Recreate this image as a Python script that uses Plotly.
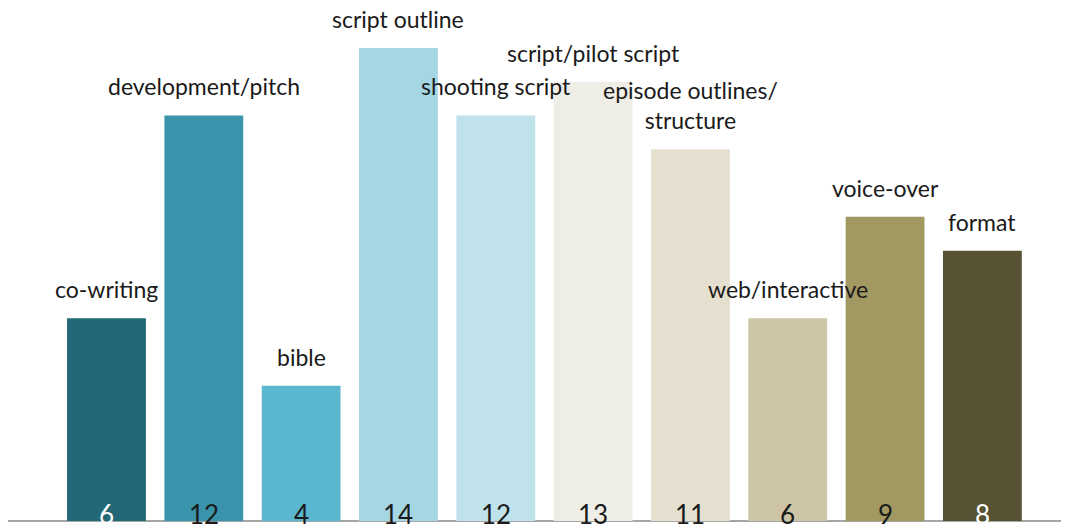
import plotly.graph_objects as go

categories = ["co-writing", "development/pitch", "bible", "script outline", "shooting script",
              "script/pilot script", "episode outlines/<br>structure", "web/interactive",
              "voice-over", "format"]
values = [6, 12, 4, 14, 12, 13, 11, 6, 9, 8]
colors = ["#236877", "#3A95AC", "#5BB7CF", "#A4D7E3", "#C0E2EB",
          "#EEEEE7", "#E4DFCE", "#CDC5A5", "#A19862", "#575234"]
value_colors = ["#FFFFFF", "#1A1A1A", "#1A1A1A", "#1A1A1A", "#1A1A1A",
                "#1A1A1A", "#1A1A1A", "#1A1A1A", "#1A1A1A", "#FFFFFF"]

FONT = "Lato, sans-serif"
x = list(range(len(values)))

fig = go.Figure()
fig.add_trace(go.Bar(x=x, y=values, marker=dict(color=colors, line=dict(width=0)),
                     width=0.81, hoverinfo="skip"))

for i, (c, v) in enumerate(zip(categories, values)):
    fig.add_annotation(x=i, y=v, text=c, showarrow=False, yanchor="bottom", yshift=13,
                       font=dict(family=FONT, size=23, color="#1A1A1A"))
    fig.add_annotation(x=i, y=0, text=str(v), showarrow=False, yanchor="middle", yshift=7,
                       font=dict(family=FONT, size=26, color=value_colors[i]))

# page body has an 8px default margin; figure is sized to end at the window edge
fig.update_layout(
    width=1061, height=519,
    margin=dict(l=0, r=0, t=0, b=6),
    paper_bgcolor="white", plot_bgcolor="white",
    showlegend=False,
    xaxis=dict(range=[-1.012, 9.89], showticklabels=False, showgrid=False, zeroline=False,
               showline=False, fixedrange=True),
    yaxis=dict(range=[0, 15.18], showticklabels=False, showgrid=False, zeroline=True,
               zerolinecolor="#A6A6A6", zerolinewidth=2, showline=False),
)
fig.write_html("out.html")
